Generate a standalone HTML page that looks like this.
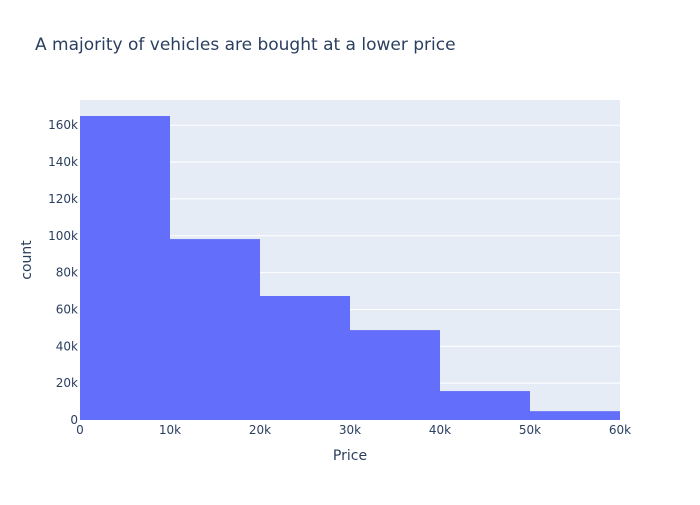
<!DOCTYPE html>
<html><head><meta charset="utf-8"><style>
body{margin:0;background:#fff;}
svg text{font-family:"DejaVu Sans","Liberation Sans",sans-serif;}
</style></head><body>
<svg id="chart" width="700" height="500" xmlns="http://www.w3.org/2000/svg">
<rect width="700" height="500" fill="#fff"/>
<text x="35" y="50" font-size="17" fill="#2a3f5f">A majority of vehicles are bought at a lower price</text>
<rect x="80" y="100" width="540" height="320" fill="#e5ecf6"/>
<g id="grid"></g><g id="bars"></g><g id="ticks"></g>
<text x="350" y="460" font-size="14" fill="#2a3f5f" text-anchor="middle">Price</text>
<text x="31" y="260" font-size="14" fill="#2a3f5f" text-anchor="middle" transform="rotate(-90 31 260)">count</text>
</svg>
<script>
const binStarts=[0,10000,20000,30000,40000,50000];
const binWidth=10000;
const counts=[165000,98200,67300,48800,15700,4800];
const yTicks=[0,20000,40000,60000,80000,100000,120000,140000,160000];
const yTickLabels=["0","20k","40k","60k","80k","100k","120k","140k","160k"];
const xTicks=[0,10000,20000,30000,40000,50000,60000];
const xTickLabels=["0","10k","20k","30k","40k","50k","60k"];
const X0=80,X1=620,Y0=420,Y1=100,xMax=60000,yMax=173700;
const sx=v=>X0+v/xMax*(X1-X0), sy=v=>Y0-v/yMax*(Y0-Y1);
const NS="http://www.w3.org/2000/svg";
function mk(t,a,p){const e=document.createElementNS(NS,t);for(const k in a)e.setAttribute(k,a[k]);p.appendChild(e);return e;}
const grid=document.getElementById('grid'),bars=document.getElementById('bars'),ticks=document.getElementById('ticks');
yTicks.forEach((v,i)=>{
 if(v>0){const l=mk('line',{x1:X0,x2:X1,y1:sy(v),y2:sy(v),stroke:'#fff','stroke-width':1},grid);
 
 }
 const t=mk('text',{x:X0-2,y:sy(v)+4,'font-size':12,fill:'#2a3f5f','text-anchor':'end'},ticks);t.textContent=yTickLabels[i];
 
 
});
xTicks.forEach((v,i)=>{
 const t=mk('text',{x:sx(v),y:Y0+14,'font-size':12,fill:'#2a3f5f','text-anchor':'middle'},ticks);t.textContent=xTickLabels[i];
 
 
});
counts.forEach((c,i)=>{
 const r=mk('rect',{x:sx(binStarts[i]),y:sy(c),width:sx(binStarts[i]+binWidth)-sx(binStarts[i]),height:Y0-sy(c),fill:'#636efa'},bars);
 
 
});
</script>
</body></html>
